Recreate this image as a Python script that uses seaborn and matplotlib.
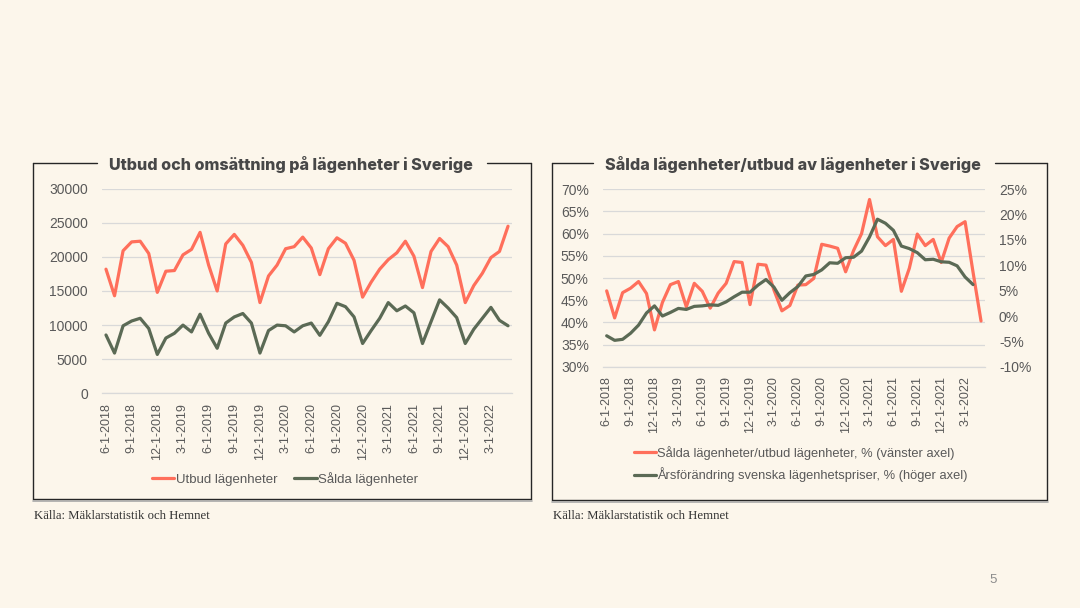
import numpy as np
import pandas as pd
import matplotlib
matplotlib.use("Agg")
import matplotlib.pyplot as plt
from matplotlib.lines import Line2D
from matplotlib.ticker import FixedLocator, FuncFormatter
import seaborn as sns

# ---------------- data ----------------
months = pd.date_range("2018-06-01", periods=48, freq="MS")
month_labels = [f"{d.month}-1-{d.year}" for d in months]

utbud = [18200, 14300, 20900, 22200, 22300, 20500, 14800, 17900, 18000, 20300,
         21100, 23600, 18800, 15000, 21900, 23300, 21700, 19200, 13300, 17200,
         18800, 21200, 21500, 22900, 21300, 17400, 21200, 22800, 22000, 19500,
         14100, 16300, 18200, 19600, 20600, 22300, 20100, 15500, 20800, 22700,
         21500, 18800, 13300, 15800, 17600, 19900, 20800, 24500]

salda = [8550, 5900, 9900, 10600, 11000, 9500, 5700, 8100, 8800, 10000,
         9000, 11600, 8800, 6600, 10300, 11200, 11700, 10300, 5900, 9200,
         10000, 9900, 9000, 9900, 10300, 8500, 10500, 13200, 12700, 11200,
         7300, 9200, 11000, 13300, 12100, 12800, 11800, 7300, 10500, 13700,
         12500, 11100, 7300, 9400, 11000, 12600, 10700, 9900]

kvot = [47.1, 41.0, 46.7, 47.7, 49.2, 46.5, 38.3, 44.5, 48.5, 49.2,
        43.5, 48.8, 47.0, 43.2, 46.6, 48.8, 53.7, 53.5, 44.0, 53.1,
        52.9, 47.3, 42.6, 43.8, 48.4, 48.5, 49.9, 57.6, 57.2, 56.7,
        51.4, 56.2, 60.0, 67.7, 59.3, 57.3, 58.7, 47.0, 52.2, 59.9,
        57.3, 58.7, 53.5, 59.0, 61.6, 62.7, 51.3, 40.3]

prisforandring = [-3.9, -4.8, -4.6, -3.4, -1.8, 0.6, 2.0, 0.0, 0.7, 1.5,
                  1.3, 1.9, 2.0, 2.2, 2.1, 2.8, 3.8, 4.7, 4.7, 6.1,
                  7.2, 5.7, 3.1, 4.6, 5.8, 7.9, 8.2, 9.1, 10.5, 10.4,
                  11.5, 11.6, 12.8, 15.6, 19.1, 18.3, 16.9, 13.8, 13.3, 12.5,
                  11.1, 11.2, 10.7, 10.6, 9.9, 7.7, 6.2, np.nan]

left_title = "Utbud och omsättning på lägenheter i Sverige"
right_title = "Sålda lägenheter/utbud av lägenheter i Sverige"
left_series = ["Utbud lägenheter", "Sålda lägenheter"]
right_series = ["Sålda lägenheter/utbud lägenheter, % (vänster axel)",
                "Årsförändring svenska lägenhetspriser, % (höger axel)"]
source = "Källa: Mäklarstatistik och Hemnet"

# ---------------- style ----------------
BG = "#FCF6EB"
RED = "#FF6F5B"
GREEN = "#5B6A55"
TXT = "#595959"
TITLE = "#474747"
GRID = "#D9D9D9"

sns.set_theme(style="white")
plt.rcParams["font.family"] = ["Liberation Sans", "DejaVu Sans"]

W, H = 1080, 608
fig = plt.figure(figsize=(W / 100, H / 100), dpi=100, facecolor=BG)


def px_axes(x0, y0, x1, y1):
    return fig.add_axes([x0 / W, 1 - y1 / H, (x1 - x0) / W, (y1 - y0) / H])


def fx(x):
    return x / W


def fy(y):
    return 1 - y / H


def style_axes(ax):
    ax.set_facecolor(BG)
    ax.set_xlim(-0.5, 47.5)
    ax.set_xticks(range(0, 48, 3))
    ax.set_xticklabels(month_labels[::3], rotation=90, fontsize=9, color=TXT)
    ax.xaxis.set_minor_locator(FixedLocator(np.arange(-0.5, 48, 3)))
    ax.tick_params(axis="x", which="major", length=0, pad=7)
    ax.tick_params(axis="x", which="minor", length=4, color=GRID, width=0.9)
    ax.tick_params(axis="y", length=0, labelsize=10, labelcolor=TXT, pad=10)
    for s in ["top", "right", "left"]:
        ax.spines[s].set_visible(False)
    ax.spines["bottom"].set_color(GRID)
    ax.spines["bottom"].set_linewidth(0.9)
    ax.grid(axis="y", color=GRID, linewidth=0.9)
    ax.grid(axis="x", visible=False)
    ax.set_axisbelow(True)
    ax.set_xlabel("")
    ax.set_ylabel("")


# ---------------- left panel ----------------
ax1 = px_axes(101.7, 188.7, 512.3, 393.3)
df1 = pd.DataFrame({"idx": np.arange(48),
                    left_series[0]: utbud,
                    left_series[1]: salda}).melt(id_vars="idx", var_name="serie", value_name="v")
sns.lineplot(data=df1, x="idx", y="v", hue="serie", palette=[RED, GREEN],
             linewidth=2.3, ax=ax1, legend=False)
style_axes(ax1)
ax1.set_ylim(0, 30000)
ax1.set_yticks(range(0, 30001, 5000))

# ---------------- right panel ----------------
ax2 = px_axes(602.7, 189.3, 985, 366.7)
df2 = pd.DataFrame({"idx": np.arange(48), "v": kvot})
sns.lineplot(data=df2, x="idx", y="v", color=RED, linewidth=2.3, ax=ax2)
style_axes(ax2)
ax2.set_ylim(30, 70)
ax2.set_yticks(range(30, 71, 5))
ax2.yaxis.set_major_formatter(FuncFormatter(lambda v, p: f"{v:.0f}%"))

ax2r = ax2.twinx()
df3 = pd.DataFrame({"idx": np.arange(48), "v": prisforandring})
sns.lineplot(data=df3, x="idx", y="v", color=GREEN, linewidth=2.3, ax=ax2r)
ax2r.set_ylim(-10, 25)
ax2r.set_yticks(range(-10, 26, 5))
ax2r.yaxis.set_major_formatter(FuncFormatter(lambda v, p: f"{v:.0f}%"))
ax2r.tick_params(axis="y", length=0, labelsize=10, labelcolor=TXT, pad=10)
for s in ["top", "right", "left", "bottom"]:
    ax2r.spines[s].set_visible(False)
ax2r.grid(False)
ax2r.set_ylabel("")
ax2r.set_xlim(-0.5, 47.5)

# ---------------- legends ----------------
h1 = [Line2D([], [], color=RED, lw=2.3), Line2D([], [], color=GREEN, lw=2.3)]
fig.legend(h1, left_series, loc="center", bbox_to_anchor=(fx(285), fy(479)),
           ncol=2, frameon=False, fontsize=9.5, handlelength=1.7,
           handletextpad=0.1, columnspacing=1.3, labelcolor=TXT)
fig.legend(h1, right_series, loc="center left", bbox_to_anchor=(fx(622), fy(464)),
           ncol=1, frameon=False, fontsize=9.3, handlelength=1.7,
           handletextpad=0.1, labelspacing=0.6, labelcolor=TXT)

# ---------------- boxes with titles ----------------
def box(x0, x1, y0, y1, gap0, gap1):
    kw = dict(color="#262626", lw=1.0, transform=fig.transFigure)
    fig.add_artist(Line2D([fx(x0), fx(x0)], [fy(y0), fy(y1)], **kw))
    fig.add_artist(Line2D([fx(x1), fx(x1)], [fy(y0), fy(y1)], **kw))
    fig.add_artist(Line2D([fx(x0), fx(x1)], [fy(y1), fy(y1)], **kw))
    fig.add_artist(Line2D([fx(x0), fx(gap0)], [fy(y0), fy(y0)], **kw))
    fig.add_artist(Line2D([fx(gap1), fx(x1)], [fy(y0), fy(y0)], **kw))
    fig.add_artist(Line2D([fx(x0), fx(x1 + 1)], [fy(y1 + 1.5), fy(y1 + 1.5)],
                          color="#A8A8A8", lw=1.2, transform=fig.transFigure))


box(33.3, 530.7, 163.3, 499.3, 97, 487)
box(551.7, 1047, 163.3, 500, 593, 995)

fig.text(fx(291), fy(165), left_title, ha="center", va="center", fontsize=11.6,
         fontweight="heavy", family=["Inter", "DejaVu Sans"], color=TITLE)
fig.text(fx(793), fy(165), right_title, ha="center", va="center", fontsize=11.6,
         fontweight="heavy", family=["Inter", "DejaVu Sans"], color=TITLE)

fig.text(fx(34), fy(516), source, ha="left", va="center", fontsize=9.2,
         family=["Liberation Serif", "DejaVu Serif"], color="#333333")
fig.text(fx(553), fy(516), source, ha="left", va="center", fontsize=9.2,
         family=["Liberation Serif", "DejaVu Serif"], color="#333333")
fig.text(fx(993), fy(580), "5", ha="center", va="center", fontsize=9.5, color="#8C8C8C")

fig.savefig("out.png", dpi=100, facecolor=BG)
